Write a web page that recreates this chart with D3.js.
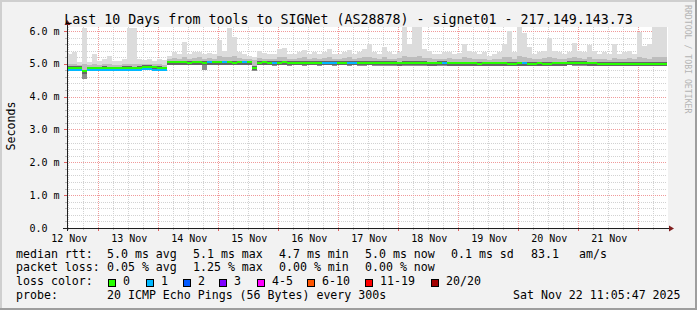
<!DOCTYPE html>
<html><head><meta charset="utf-8">
<script src="https://cdn.jsdelivr.net/npm/d3@7"></script>
<style>
html,body{margin:0;padding:0;background:#f2f2f2;}
svg{display:block;}
text{font-family:"DejaVu Sans Mono",monospace;}
</style></head><body>
<svg id="c" width="697" height="310"></svg>
<script>
// ---------------- data ----------------
const title = "Last 10 Days from tools to SIGNet (AS28878) - signet01 - 217.149.143.73";
const yAxisTitle = "Seconds";
const watermark = "RRDTOOL / TOBI OETIKER";
const yTickLabels = ["0.0","1.0 m","2.0 m","3.0 m","4.0 m","5.0 m","6.0 m"];
const dayLabels = ["12 Nov","13 Nov","14 Nov","15 Nov","16 Nov","17 Nov","18 Nov","19 Nov","20 Nov","21 Nov"];
const binHours = 2; // each value covers 2 hours, starting at graph start

// median rtt in ms (green = 0 loss)
const median = [
 4.87,4.87,4.87,4.77,4.86,4.86,4.86,4.87,4.86,4.86,
 4.86,4.87,4.87,4.86,4.87,4.90,4.90,4.89,4.87,4.86,
 5.04,5.04,5.04,5.04,5.03,5.04,5.04,5.03,5.04,5.04,
 5.04,5.04,5.04,5.03,5.04,5.04,5.04,4.88,5.03,5.04,
 5.03,5.03,5.03,5.04,5.03,5.03,5.03,5.03,5.03,5.03,
 5.03,5.03,5.03,5.03,5.03,5.03,5.03,5.03,5.02,5.02,
 5.03,5.03,5.02,5.02,5.02,5.02,5.01,5.02,5.02,5.02,
 5.02,5.02,5.01,5.01,5.02,5.02,5.01,5.01,5.01,5.01,
 5.01,5.01,5.00,5.01,5.01,5.01,5.01,5.01,5.00,5.00,
 5.01,5.01,5.00,5.00,5.01,5.00,5.00,5.01,5.01,5.01,
 5.03,5.03,5.02,5.02,5.01,5.01,5.00,5.00,5.00,5.00,
 5.00,5.00,5.00,5.00,5.00,5.00,5.00,5.00,5.00,5.00
];
// median of periods with 1 lost ping (blue), null where none
const N = null;
const medianLoss1 = [
 4.81,4.81,4.81,N,4.81,4.81,4.81,4.81,4.81,4.81,
 4.81,4.81,4.81,4.81,4.81,4.83,4.83,4.82,4.81,4.81,
 N,N,N,N,N,N,N,N,5.04,N,
 N,5.04,N,N,N,5.04,N,N,N,N,
 N,5.03,N,N,N,N,N,N,N,N,
 N,5.03,5.03,5.03,N,N,5.03,5.03,N,N,
 N,N,N,N,N,N,N,N,N,N,
 N,N,N,N,N,5.02,N,N,N,N,
 N,N,N,N,N,N,N,N,N,N,
 N,5.01,N,N,N,N,N,N,N,N,
 N,N,N,N,N,N,N,N,N,N,
 N,N,N,N,N,N,N,N,N,N
];
// smoke: highest ping
const smokeHi = [
 5.30,5.37,5.05,6.10,5.05,5.30,5.10,5.15,5.25,5.10,
 5.10,5.15,6.10,6.10,5.15,5.12,5.15,5.10,5.15,5.12,
 5.25,5.37,5.30,5.67,5.30,5.35,5.37,5.30,5.32,5.30,
 5.73,5.40,6.10,5.83,5.35,5.30,5.25,5.22,5.40,5.32,
 5.30,5.30,5.45,5.48,5.30,5.30,5.35,5.42,5.30,5.35,
 5.30,5.35,5.45,5.30,5.30,5.35,5.42,5.30,5.35,5.45,
 5.60,5.35,5.30,5.52,5.35,5.30,5.35,6.13,5.60,6.13,
 6.13,5.45,5.40,5.30,5.30,5.35,5.35,5.30,5.32,5.60,
 5.40,5.35,5.30,5.35,5.25,5.30,5.35,5.60,6.00,5.35,
 6.12,5.93,5.50,5.30,5.35,5.40,5.80,5.40,5.35,5.30,
 5.35,5.63,5.40,5.35,5.57,5.40,5.30,5.35,5.30,5.60,
 5.30,5.35,5.40,5.30,5.98,5.55,5.60,6.13,6.13,6.13
];
// smoke: upper edge of the denser band
const smokeMid = [
 4.98,5.00,4.97,4.98,4.97,4.98,4.97,4.98,4.99,4.97,
 4.97,4.98,5.00,4.98,5.00,4.99,5.00,4.98,4.98,4.97,
 5.15,5.18,5.15,5.22,5.16,5.18,5.20,5.15,5.17,5.15,
 5.25,5.20,5.22,5.25,5.18,5.15,5.15,5.12,5.18,5.15,
 5.15,5.15,5.20,5.22,5.15,5.16,5.18,5.20,5.15,5.17,
 5.15,5.18,5.20,5.15,5.15,5.18,5.20,5.15,5.17,5.20,
 5.22,5.17,5.15,5.20,5.16,5.15,5.17,5.25,5.20,5.22,
 5.25,5.18,5.18,5.15,5.15,5.16,5.17,5.15,5.15,5.20,
 5.17,5.15,5.14,5.15,5.13,5.14,5.15,5.22,5.22,5.15,
 5.25,5.20,5.18,5.14,5.15,5.17,5.20,5.17,5.15,5.14,
 5.18,5.22,5.17,5.15,5.20,5.16,5.14,5.15,5.13,5.18,
 5.14,5.15,5.17,5.14,5.22,5.18,5.16,5.22,5.22,5.20
];
// smoke: lowest ping
const smokeLo = [
 4.81,4.81,4.82,4.55,4.81,4.81,4.82,4.81,4.81,4.82,
 4.81,4.82,4.81,4.81,4.82,4.84,4.84,4.83,4.82,4.81,
 4.96,4.95,4.95,4.96,4.95,4.95,4.95,4.82,4.95,4.96,
 4.95,4.95,4.96,4.95,4.95,4.96,4.95,4.78,4.95,4.95,
 4.95,4.94,4.95,4.95,4.94,4.95,4.95,4.94,4.95,4.95,
 4.94,4.95,4.95,4.94,4.95,4.95,4.94,4.95,4.94,4.94,
 4.95,4.94,4.94,4.93,4.94,4.94,4.93,4.94,4.94,4.93,
 4.94,4.93,4.93,4.92,4.93,4.94,4.93,4.93,4.92,4.93,
 4.93,4.92,4.92,4.93,4.92,4.93,4.92,4.93,4.92,4.92,
 4.93,4.92,4.92,4.92,4.93,4.92,4.92,4.93,4.92,4.93,
 4.95,4.94,4.94,4.93,4.93,4.92,4.92,4.92,4.92,4.93,
 4.92,4.92,4.92,4.92,4.92,4.92,4.93,4.92,4.92,4.92
];

const rowLabels = ["median rtt:","packet loss:","loss color:","probe:"];
const rttStats = ["5.0 ms avg","5.1 ms max","4.7 ms min","5.0 ms now","0.1 ms sd","83.1","am/s"];
const lossStats = ["0.05 % avg","1.25 % max","0.00 % min","0.00 % now"];
const lossLevels = ["0","1","2","3","4-5","6-10","11-19","20/20"];
const lossColors = ["#26ff00","#00b8ff","#0059ff","#7e00ff","#ff00ff","#ff5500","#ff0000","#a10000"];
const probeText = "20 ICMP Echo Pings (56 Bytes) every 300s";
const dateText = "Sat Nov 22 11:05:47 2025";

// ---------------- layout ----------------
const W=697,H=310,L=67,R=667,B=228,T=27;
const svg = d3.select("#c");
const t0 = new Date(Date.UTC(2025,10,12,11,30));
const t1 = new Date(Date.UTC(2025,10,22,11,30));
const x = d3.scaleUtc().domain([t0,t1]).range([L,R]);
const y = d3.scaleLinear().domain([0,6.12]).range([B,T]).clamp(true);
const binT = i => d3.utcHour.offset(t0, i*binHours);
const px = v => Math.round(v)+0.5;

// background and shades
svg.append("rect").attr("width",W).attr("height",H).attr("fill","#f2f2f2");
svg.append("rect").attr("x",0).attr("y",0).attr("width",W).attr("height",2).attr("fill","#cfcfcf");
svg.append("rect").attr("x",0).attr("y",0).attr("width",2).attr("height",H).attr("fill","#cfcfcf");
svg.append("rect").attr("x",0).attr("y",H-2).attr("width",W).attr("height",2).attr("fill","#9e9e9e");
svg.append("rect").attr("x",W-2).attr("y",0).attr("width",2).attr("height",H).attr("fill","#9e9e9e");

// canvas
svg.append("rect").attr("x",L).attr("y",T).attr("width",R-L+1).attr("height",B-T).attr("fill","#fff");

// grid
const g = svg.append("g").attr("shape-rendering","crispEdges");
const minorY = y.ticks(30).filter(v => Math.abs(v-Math.round(v))>1e-6);
const majorY = y.ticks(6);
const minorX = d3.utcHour.every(6).range(t0,t1).filter(d => d.getUTCHours()!==0);
const majorX = d3.utcDay.range(t0,t1);
const minorCol = "#d2d2d2", majorCol = "#f09a9a";
minorY.forEach(v=>{
  g.append("line").attr("x1",L).attr("x2",R).attr("y1",px(y(v))).attr("y2",px(y(v)))
   .attr("stroke",minorCol).attr("stroke-dasharray","1,1");
  g.append("line").attr("x1",L-2).attr("x2",L).attr("y1",px(y(v))).attr("y2",px(y(v))).attr("stroke","#bbb");
});
minorX.forEach(d=>{
  g.append("line").attr("x1",px(x(d))).attr("x2",px(x(d))).attr("y1",T).attr("y2",B)
   .attr("stroke",minorCol).attr("stroke-dasharray","1,1");
  g.append("line").attr("x1",px(x(d))).attr("x2",px(x(d))).attr("y1",B).attr("y2",B+2).attr("stroke","#bbb");
});
majorY.filter(v=>v>0).forEach(v=>{
  g.append("line").attr("x1",L).attr("x2",R).attr("y1",px(y(v))).attr("y2",px(y(v)))
   .attr("stroke",majorCol).attr("stroke-dasharray","1,1");
});
majorY.forEach(v=>{
  g.append("line").attr("x1",L-3).attr("x2",L).attr("y1",px(y(v))).attr("y2",px(y(v))).attr("stroke","#e06060");
});
majorX.forEach(d=>{
  g.append("line").attr("x1",px(x(d))).attr("x2",px(x(d))).attr("y1",T).attr("y2",B)
   .attr("stroke",majorCol).attr("stroke-dasharray","1,1");
  g.append("line").attr("x1",px(x(d))).attr("x2",px(x(d))).attr("y1",B).attr("y2",B+3).attr("stroke","#e06060");
});

// smoke and median
const d = svg.append("g").attr("shape-rendering","crispEdges");
const bins = d3.range(median.length);
function band(lo, hi, color){
  d.append("g").selectAll("rect").data(bins).join("rect")
   .attr("x", i=>x(binT(i))).attr("width", i=>x(binT(i+1))-x(binT(i)))
   .attr("y", i=>y(hi(i))).attr("height", i=>Math.max(0,y(lo(i))-y(hi(i))))
   .attr("fill", color);
}
band(i=>smokeLo[i], i=>smokeHi[i], "#dcdcdc");
band(i=>median[i], i=>smokeMid[i], "#bdbdbd");
band(i=>smokeLo[i], i=>median[i], "#8e8e8e");
band(i=>median[i]-0.07, i=>median[i]+0.05, "#666");
// loss-coloured median
d.append("g").selectAll("rect").data(bins).join("rect")
  .attr("x", i=>x(binT(i))).attr("width", i=>x(binT(i+1))-x(binT(i)))
  .attr("y", i=>y(median[i])-1).attr("height",2).attr("fill", lossColors[0]);
d.append("g").selectAll("rect").data(bins.filter(i=>medianLoss1[i]!==null)).join("rect")
  .attr("x", i=>x(binT(i))).attr("width", i=>x(binT(i+1))-x(binT(i)))
  .attr("y", i=>y(medianLoss1[i])-1).attr("height",2).attr("fill", lossColors[1]);

// axes
const ax = svg.append("g").attr("shape-rendering","crispEdges");
ax.append("line").attr("x1",L-4).attr("x2",R+3).attr("y1",px(B)).attr("y2",px(B)).attr("stroke","#1f1f1f");
ax.append("line").attr("x1",px(L)).attr("x2",px(L)).attr("y1",B+3).attr("y2",T-2).attr("stroke","#1f1f1f");
svg.append("path").attr("d",`M${L-2.5},${T-2}L${L+3.5},${T-2}L${L+0.5},${T-7}Z`).attr("fill","#801f1f");
svg.append("path").attr("d",`M${R+2},${B-2.5}L${R+2},${B+3.5}L${R+7},${B+0.5}Z`).attr("fill","#801f1f");

// labels
svg.append("text").attr("x",W/2).attr("y",24).attr("text-anchor","middle")
  .attr("font-size","13.3px").attr("fill","#000").text(title);
majorY.forEach((v,i)=>{
  svg.append("text").attr("x",29.5).attr("y",y(v)+3.6).attr("font-size","10px").text(yTickLabels[i]);
});
dayLabels.forEach((s,i)=>{
  const noon = d3.utcHour.offset(d3.utcDay.floor(t0), 24*i+12);
  svg.append("text").attr("x",x(noon)+1).attr("y",242).attr("text-anchor","middle")
    .attr("font-size","10px").text(s);
});
svg.append("text").attr("transform",`translate(15,126) rotate(-90)`).attr("text-anchor","middle")
  .attr("font-size","11.6px").text(yAxisTitle);
svg.append("text").attr("transform",`translate(685,5) rotate(90)`).attr("text-anchor","start")
  .attr("font-size","8.2px").attr("fill","#b4b4b4").text(watermark);

// legend
const rowY = [257.6,271.3,285,298.7];
const fs = "11.6px";
const lg = svg.append("g").attr("font-size",fs).attr("fill","#000");
rowLabels.forEach((s,i)=> lg.append("text").attr("x",16).attr("y",rowY[i]).text(s));
const statX = [107,193,279,365,451,531,579];
rttStats.forEach((s,i)=> lg.append("text").attr("x",statX[i]).attr("y",rowY[0]).text(s));
lossStats.forEach((s,i)=> lg.append("text").attr("x",statX[i]).attr("y",rowY[1]).text(s));
const boxX = [108,146,183,219,257,307,365,431];
lossLevels.forEach((s,i)=>{
  lg.append("rect").attr("x",boxX[i]+0.5).attr("y",279.5).attr("width",7).attr("height",7)
    .attr("fill",lossColors[i]).attr("stroke","#000").attr("stroke-width",1).attr("shape-rendering","crispEdges");
  lg.append("text").attr("x",boxX[i]+15).attr("y",rowY[2]).text(s);
});
lg.append("text").attr("x",107).attr("y",rowY[3]).text(probeText);
lg.append("text").attr("x",513).attr("y",rowY[3]).text(dateText);
</script>
</body></html>
